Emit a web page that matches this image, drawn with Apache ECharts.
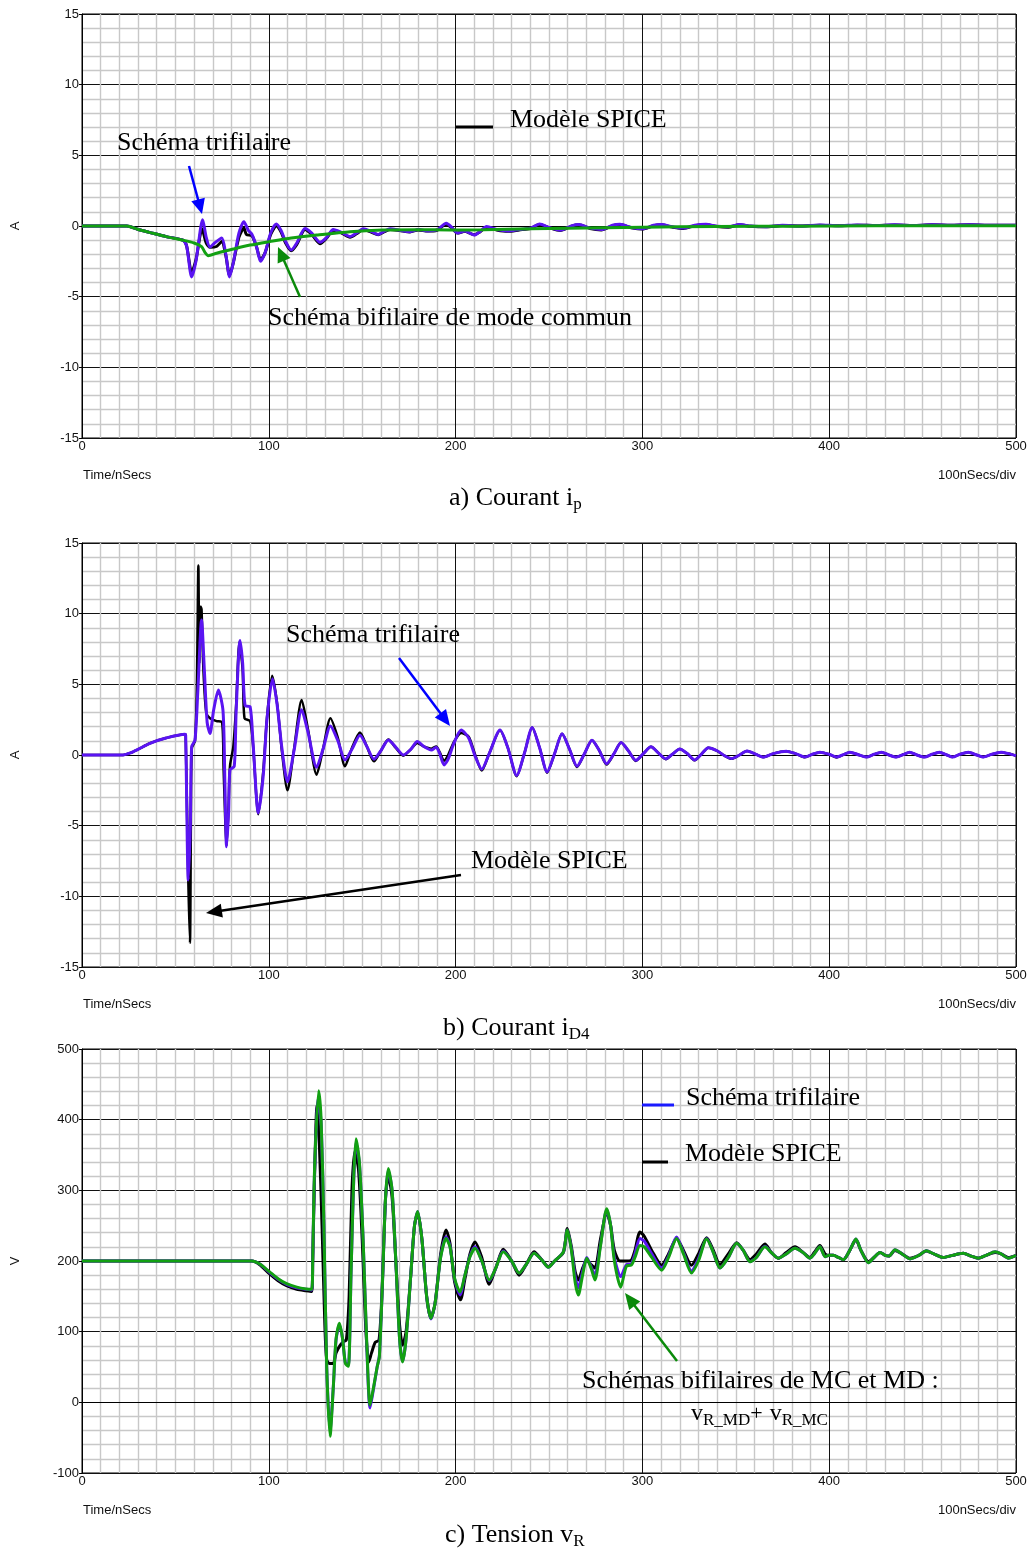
<!DOCTYPE html>
<html><head><meta charset="utf-8">
<script src="https://cdn.jsdelivr.net/npm/echarts@6/dist/echarts.min.js"></script>
<style>html,body{margin:0;padding:0;background:#fff}#c{width:1031px;height:1549px}</style>
</head><body><div id="c"></div><script>
// ---------- data (time in ns) ----------
// Panel a) Courant ip (A)
const aSpice = [[0,0],[22,0],[24,0],[30,-0.25],[36,-0.45],[45,-0.75],[54,-1.0],[56,-1.4],[58.7,-3.3],[61,-2.4],[64.3,-0.2],[66.5,-1.2],[68.5,-1.5],[72,-1.45],[74.8,-1.1],[77,-2.1],[79,-3.5],[81,-2.6],[84,-0.8],[86.7,-0.15],[88,-0.6],[91,-0.7],[93.5,-1.5],[95.6,-2.4],[98,-1.9],[101,-0.6],[104,0.0],[106.5,-0.4],[109,-1.2],[112,-1.75],[115,-1.3],[119.4,-0.25],[123,-0.6],[127.4,-1.25],[131,-0.85],[134.5,-0.3],[139,-0.5],[143.5,-0.8],[147,-0.55],[150.6,-0.25],[155,-0.45],[158.6,-0.62],[162,-0.4],[165,-0.25],[170,-0.32],[175.6,-0.42],[180,-0.28],[185,-0.36],[190,-0.3],[195,0.12],[198,-0.15],[201,-0.5],[205,-0.38],[210,-0.62],[213,-0.42],[216.6,-0.1],[222,-0.28],[228,-0.38],[234,-0.28],[240,-0.18],[245,0.1],[250,-0.12],[256,-0.32],[262,-0.02],[266,0.08],[272,-0.18],[278,-0.28],[284,0.02],[288,0.1],[294,-0.12],[300,-0.22],[306,0.02],[310,0.08],[316,-0.08],[322,-0.18],[328,0.02],[334,0.1],[340,-0.04],[346,-0.08],[352,0.08],[358,-0.02],[366,-0.06],[375,0.04],[385,0.0],[395,0.06],[405,0.02],[415,0.06],[425,0.03],[435,0.07],[445,0.04],[455,0.08],[465,0.05],[475,0.08],[485,0.05],[500,0.06]];
const aTri = [[0,0],[22,0],[24,0],[30,-0.25],[36,-0.45],[45,-0.75],[54,-1.0],[56,-1.4],[58.7,-3.6],[61,-2.5],[64.6,0.45],[66.5,-0.8],[68.5,-1.5],[71,-1.2],[74.8,-0.85],[77,-2.0],[79,-3.6],[81,-2.6],[84,-0.5],[86.7,0.3],[89,-0.3],[91,-0.6],[93.5,-1.5],[95.6,-2.5],[98,-1.9],[101,-0.5],[104,0.14],[106.5,-0.3],[109,-1.1],[112,-1.7],[115,-1.2],[119.4,-0.17],[123,-0.5],[127.4,-1.15],[131,-0.8],[134.5,-0.24],[139,-0.45],[143.5,-0.75],[147,-0.5],[150.6,-0.2],[155,-0.4],[158.6,-0.6],[162,-0.35],[165,-0.2],[170,-0.3],[175.6,-0.4],[180,-0.25],[185,-0.35],[190,-0.28],[195,0.19],[198,-0.1],[201,-0.5],[205,-0.35],[210,-0.64],[213,-0.4],[216.6,-0.04],[222,-0.25],[228,-0.35],[234,-0.25],[240,-0.15],[245,0.15],[250,-0.1],[256,-0.3],[262,0.0],[266,0.1],[272,-0.15],[278,-0.25],[284,0.05],[288,0.12],[294,-0.1],[300,-0.2],[306,0.05],[310,0.1],[316,-0.05],[322,-0.15],[328,0.05],[334,0.12],[340,-0.02],[346,-0.05],[352,0.1],[358,0.0],[366,-0.05],[375,0.05],[385,0.0],[395,0.07],[405,0.02],[415,0.07],[425,0.03],[435,0.08],[445,0.04],[455,0.08],[465,0.05],[475,0.08],[485,0.05],[500,0.06]];
const aBif = [[0,0],[22,0],[24,0],[30,-0.25],[36,-0.45],[45,-0.75],[54,-1.0],[60,-1.2],[64,-1.46],[66,-1.9],[67.6,-2.1],[72,-1.93],[81,-1.63],[90,-1.35],[100.6,-1.1],[112,-0.85],[125.6,-0.64],[143.5,-0.4],[161,-0.28],[179,-0.26],[197,-0.28],[215,-0.27],[240,-0.2],[280,-0.12],[320,-0.06],[360,-0.02],[400,0.0],[450,0.02],[500,0.02]];

// Panel b) Courant iD4 (A)
const bSpice = [[0,0],[22,0],[26,0.15],[30,0.4],[36.4,0.83],[45,1.2],[55.1,1.46],[55.5,1.4],[56.9,-8.9],[57.8,-13.3],[58.3,-5],[58.8,0.5],[60.5,1.0],[61.5,5],[62.3,13.4],[62.8,6.5],[63.5,10.5],[64,10.3],[65,6],[66.5,3],[68.5,2.6],[72,2.4],[75,2.3],[75.8,-1],[77.4,-6.4],[78.5,-3.5],[79.2,-0.8],[81,0.6],[82.5,3.5],[84.3,8.0],[86,6],[87,2.6],[90,2.4],[91.5,0.8],[94.4,-4.2],[97,-1.2],[99,2.6],[101.8,5.6],[104.5,3.6],[107,0.3],[110,-2.5],[113.5,0.4],[117.6,3.9],[121,1.8],[125.6,-1.4],[129,0.4],[133,2.6],[137,1.2],[140.8,-0.8],[144.5,0.5],[148.8,1.6],[152.5,0.6],[156.3,-0.45],[160,0.3],[164,1.1],[168,0.5],[172,-0.05],[176,0.4],[179.5,0.85],[183,0.6],[187,0.45],[189.6,0.6],[191.5,0.2],[193.8,-0.4],[196,0.0],[199,0.9],[203,1.55],[207,1.3],[210.5,0.0],[214,-1.1],[218,0.1],[223.8,1.75],[228,0.5],[232.7,-1.5],[237,0.2],[241,1.95],[245,0.5],[249,-1.25],[253,0.1],[257,1.5],[261,0.4],[265,-0.85],[269,0.1],[273,1.05],[277,0.3],[280.8,-0.68],[284.8,0.1],[288.6,0.88],[292.5,0.3],[296.5,-0.42],[300.5,0.1],[304.6,0.58],[308.5,0.15],[312.5,-0.3],[316,0.05],[320,0.42],[324,0.1],[328,-0.38],[331.5,0.05],[335.3,0.52],[340,0.3],[344,-0.05],[347.8,-0.27],[352,0.0],[356,0.28],[360,0.1],[364.7,-0.16],[370,0.1],[377,0.27],[382,0.1],[387,-0.16],[391,0.05],[395,0.2],[400,0.05],[404,-0.17],[408,0.05],[411,0.2],[416,0.0],[420,-0.15],[424,0.05],[428,0.2],[432,0.0],[436,-0.15],[440,0.05],[443,0.2],[447,0.0],[451,-0.15],[455,0.05],[459,0.2],[463,0.0],[466,-0.15],[470,0.05],[474.5,0.2],[479,0.0],[482.5,-0.15],[487,0.05],[492,0.2],[496,0.1],[500,-0.05]];
const bTri = [[0,0],[22,0],[26,0.15],[30,0.4],[36.4,0.83],[45,1.2],[55.1,1.46],[55.5,1.4],[56.9,-8.85],[58,-5],[58.7,0.59],[60.5,1.06],[62,4.5],[64,9.55],[65.5,6],[67,2.3],[68.5,1.53],[70.5,3.2],[73,4.6],[75.5,3.1],[76.5,-2],[77.4,-6.5],[78.5,-4],[79.2,-1.06],[81.5,-0.8],[82.5,3],[84.6,8.1],[86,6.5],[87.3,3.5],[90,3.4],[91.5,1.0],[94.4,-4.1],[97,-1.5],[99,2.5],[102,5.4],[104.5,3.5],[107,0.5],[110,-1.9],[113.5,0.3],[117.6,3.2],[121,1.6],[125.6,-0.87],[129,0.4],[133,2.05],[137,1.0],[140.8,-0.35],[144.5,0.4],[148.8,1.4],[152.5,0.6],[156.3,-0.3],[160,0.3],[164,1.06],[168,0.55],[172,0.0],[176,0.4],[179.5,0.95],[183,0.6],[187,0.35],[189.6,0.55],[191.5,0.1],[193.8,-0.7],[196,-0.3],[199,0.8],[203,1.77],[207,1.2],[210.5,-0.1],[214,-1.0],[218,0.1],[223.8,1.77],[228,0.5],[232.7,-1.45],[237,0.2],[241,1.95],[245,0.5],[249,-1.2],[253,0.1],[257,1.5],[261,0.4],[265,-0.8],[269,0.1],[273,1.05],[277,0.3],[280.8,-0.62],[284.8,0.1],[288.6,0.88],[292.5,0.3],[296.5,-0.38],[300.5,0.1],[304.6,0.58],[308.5,0.15],[312.5,-0.27],[316,0.05],[320,0.42],[324,0.1],[328,-0.35],[331.5,0.05],[335.3,0.52],[340,0.3],[344,-0.05],[347.8,-0.25],[352,0.0],[356,0.28],[360,0.1],[364.7,-0.14],[370,0.1],[377,0.27],[382,0.1],[387,-0.14],[391,0.05],[395,0.2],[400,0.05],[404,-0.15],[408,0.05],[411,0.2],[416,0.0],[420,-0.15],[424,0.05],[428,0.2],[432,0.0],[436,-0.15],[440,0.05],[443,0.2],[447,0.0],[451,-0.15],[455,0.05],[459,0.2],[463,0.0],[466,-0.15],[470,0.05],[474.5,0.2],[479,0.0],[482.5,-0.15],[487,0.05],[492,0.2],[496,0.1],[500,-0.05]];

// Panel c) Tension vR (V)
const cSpice = [[0,200],[90,200],[91,200],[95,195],[100.3,182],[105,172],[109.5,165],[115,160],[120,158],[123,157],[123.5,200],[124.5,320],[125.8,420],[127,370],[128.5,250],[130,110],[131,60],[132.5,55],[134.5,55],[136,70],[138,80],[140,86],[141.5,88],[143,150],[144.5,300],[146,355],[148,330],[150,230],[152,100],[153.5,57],[155,70],[157,85],[159,88],[160.5,150],[162.5,290],[164,320],[166,290],[168,200],[170,110],[171.6,81],[173.5,100],[176,180],[178,250],[179.7,268],[182,230],[184.5,150],[186.8,119],[189,140],[192,210],[194.9,244],[197,225],[199.5,170],[202.6,145],[205,175],[207.7,210],[210.4,227],[214,205],[218,167],[221.5,190],[225.5,216.5],[230,200],[234,180],[238,196],[242,213],[246,202],[249.6,192],[253,200],[257.7,212],[259.8,246],[262,220],[264,185],[265.7,173],[268,190],[270.2,201],[272.5,195],[274.6,190],[277.5,230],[280.9,268],[283,250],[285,215],[288,200],[291.5,200],[294,201],[296,215],[298.7,241],[301,235],[305,215],[310.3,194],[314,210],[318.3,232],[322,215],[326.3,194],[330,210],[334.4,233],[338,215],[341.5,195],[346,210],[350.5,226],[354,215],[357.6,202],[361,210],[365.6,224],[369,212],[372.8,204],[377,212],[381.7,220],[386,212],[389.7,205],[392,212],[395,222],[397.8,210],[400,208],[402.2,208],[405,205],[407.6,202],[411,215],[414.3,230],[417,215],[421,199],[424,205],[427.2,212],[430,208],[432,207],[435.2,215],[439,210],[443.3,204],[448,208],[452,214],[456,210],[461,205],[466,208],[471.8,211],[476,207],[479.8,204],[484,208],[488.8,212],[492,210],[495.9,205],[500,208]];
const cTri = [[0,200],[90,200],[91,200],[95,196],[100.3,184],[105,174],[109.5,167],[115,162],[120,160],[123,159],[123.5,200],[124.5,325],[126.5,430],[128,395],[129.5,250],[131,50],[132.8,-40],[134.5,20],[136,88],[137.8,110],[139.5,90],[141,56],[142.6,53],[144,180],[145.5,318],[146.7,368],[148.5,338],[150.5,230],[152.5,75],[154.2,-8],[156,18],[158,50],[159.2,66],[161,180],[162.5,288],[164,328],[166,300],[168,200],[170,90],[171.6,58],[173.5,90],[176,180],[178,250],[179.7,270],[182,230],[184.5,150],[186.8,118],[189,140],[192,206],[194.9,234],[197,221],[199.5,174],[202.4,152],[205,180],[207.7,207],[210.4,220],[214,200],[218,172],[221.5,190],[225.5,214],[230,200],[234,183],[238,196],[242,211],[246,202],[249.6,191],[253,200],[257.7,213],[259.8,244],[262,217],[264,178],[265.7,162],[268,185],[270.2,205],[272.5,192],[274.6,180],[277.5,222],[280.9,272],[283,250],[285,205],[288.4,178],[291.5,195],[294,196],[296,210],[298.7,232],[301,228],[305,210],[310.3,190],[314,207],[318.3,234],[322,212],[326.3,186],[330,203],[334.4,232],[338,212],[341.5,190],[346,205],[350.5,225],[354,215],[357.6,199],[361,205],[365.6,221],[369,212],[372.8,204],[377,210],[381.7,218],[386,212],[389.7,204],[392,210],[395,220],[397.8,206],[400,208],[402.2,208],[405,205],[407.6,202],[411,215],[414.3,231],[417,215],[421,197.5],[424,205],[427.2,212],[430,208],[432,207],[435.2,216],[439,210],[443.3,203],[448,208],[452,214.6],[456,210],[461,205],[466,208],[471.8,211],[476,207],[479.8,204],[484,208],[488.8,213],[492,210],[495.9,204],[500,208]];
const cBif = [[0,200],[90,200],[91,200],[95,196],[100.3,185],[105,175],[109.5,168],[115,163],[120,160.5],[123,160],[123.5,200],[124.5,330],[126.7,441],[128,400],[129.5,250],[131,50],[132.8,-48],[134.5,20],[136,90],[137.8,112],[139.5,90],[141,55],[142.6,51],[144,180],[145.5,320],[146.7,373],[148.5,340],[150.5,230],[152.5,80],[154.2,-4],[156,20],[158,50],[159.2,65],[161,180],[162.5,290],[164,331],[166,300],[168,200],[170,90],[171.6,57],[173.5,90],[176,180],[178,250],[179.7,270],[182,230],[184.5,150],[186.8,119],[189,140],[192,205],[194.9,232],[197,220],[199.5,175],[202.4,156],[205,180],[207.7,206],[210.4,218],[214,200],[218,173],[221.5,190],[225.5,213],[230,200],[234,183],[238,196],[242,211],[246,202],[249.6,191],[253,200],[257.7,213],[259.8,244],[262,215],[264,170],[265.7,152],[268,180],[270.2,204],[272.5,190],[274.6,173],[277.5,220],[280.9,274],[283,250],[285,200],[288.4,163],[291.5,193],[294,194],[296,205],[298.7,222],[301,220],[305,205],[310.3,187],[314,205],[318.3,232],[322,210],[326.3,183],[330,200],[334.4,231],[338,212],[341.5,190],[346,205],[350.5,225],[354,215],[357.6,199],[361,205],[365.6,220],[369,212],[372.8,204],[377,210],[381.7,218],[386,212],[389.7,204],[392,210],[395,220],[397.8,206],[400,208],[402.2,208],[405,205],[407.6,202],[411,215],[414.3,231],[417,215],[421,197.5],[424,205],[427.2,212],[430,208],[432,207],[435.2,216],[439,210],[443.3,203],[448,208],[452,214.6],[456,210],[461,205],[466,208],[471.8,211],[476,207],[479.8,204],[484,208],[488.8,213],[492,210],[495.9,204],[500,208]];

const xTicks = {min: 0, max: 500, interval: 100};
const yRanges = [{min: -15, max: 15, interval: 5}, {min: -15, max: 15, interval: 5}, {min: -100, max: 500, interval: 100}];
const yNames = ['A', 'A', 'V'];

// ---------- styling ----------
const COL_BLACK = '#000000', COL_BLUE = '#5a14f2', COL_GREEN = '#12a012';
const SERIF = '"Liberation Serif","Times New Roman",serif';
const SANS = '"Liberation Sans",Arial,sans-serif';
const tops = [14, 543, 1049];
const GL = 82, GW = 934, GH = 424;

const grids = [], xAxes = [], yAxes = [];
tops.forEach((t, i) => {
  grids.push({left: GL, top: t, width: GW, height: GH, show: true, borderColor: '#000', borderWidth: 1, backgroundColor: '#fff'});
  xAxes.push({gridIndex: i, type: 'value', min: xTicks.min, max: xTicks.max, interval: xTicks.interval,
    axisLine: {show: true, lineStyle: {color: '#000', width: 1}}, axisTick: {show: false},
    axisLabel: {fontSize: 13, color: '#111', margin: 2, fontFamily: SANS, showMinLabel: true, showMaxLabel: true},
    splitLine: {show: true, lineStyle: {color: '#111', width: 1}},
    minorTick: {show: false, splitNumber: 10},
    minorSplitLine: {show: true, lineStyle: {color: '#c8c8c8', width: 1.4}}});
  const r = yRanges[i];
  yAxes.push({gridIndex: i, type: 'value', min: r.min, max: r.max, interval: r.interval,
    axisLine: {show: true, onZero: false, lineStyle: {color: '#000', width: 1}},
    axisTick: {show: true, length: 3, lineStyle: {color: '#000'}},
    axisLabel: {fontSize: 13, color: '#111', margin: 3, fontFamily: SANS, showMinLabel: true, showMaxLabel: true},
    splitLine: {show: true, lineStyle: {color: '#111', width: 1}},
    minorTick: {show: false, splitNumber: 5},
    minorSplitLine: {show: true, lineStyle: {color: '#c8c8c8', width: 1.4}}});
});

function ser(data, idx, color, w) {
  return {type: 'line', data: data, xAxisIndex: idx, yAxisIndex: idx, showSymbol: false, symbol: 'none',
    smooth: 0.25, lineStyle: {color: color, width: w}, animation: false, silent: true};
}
const series = [
  ser(aSpice, 0, COL_BLACK, 3), ser(aTri, 0, COL_BLUE, 3), ser(aBif, 0, COL_GREEN, 3),
  ser(bSpice, 1, COL_BLACK, 2.5), ser(bTri, 1, COL_BLUE, 3),
  ser(cSpice, 2, COL_BLACK, 3), ser(cTri, 2, COL_BLUE, 3), ser(cBif, 2, COL_GREEN, 3)
];

// ---------- annotations ----------
const mctx = document.createElement('canvas').getContext('2d');
function tw(s, size, font) { mctx.font = size + 'px ' + font; return mctx.measureText(s).width; }
const g = [];
function txt(x, y, s, size, font, align, color, rot) {
  g.push({type: 'text', x: x, y: y, rotation: rot || 0, z: 100,
    style: {text: s, fontSize: size, fontFamily: font, fill: color || '#000', textAlign: align || 'left', textVerticalAlign: 'middle'}});
}
// main text followed by subscript; returns x after subscript
function withSub(x, y, main, sub, size, subSize) {
  txt(x, y, main, size, SERIF);
  const x2 = x + tw(main, size, SERIF);
  txt(x2, y + 7, sub, subSize, SERIF);
  return x2 + tw(sub, subSize, SERIF);
}
function arrow(x1, y1, x2, y2, color, w, hl, hw) {
  const dx = x2 - x1, dy = y2 - y1, L = Math.sqrt(dx * dx + dy * dy);
  const ux = dx / L, uy = dy / L;
  const bx = x2 - ux * hl, by = y2 - uy * hl;
  g.push({type: 'line', z: 100, shape: {x1: x1, y1: y1, x2: bx + ux * 1, y2: by + uy * 1}, style: {stroke: color, lineWidth: w}});
  g.push({type: 'polygon', z: 100, shape: {points: [[x2, y2], [bx - uy * hw, by + ux * hw], [bx + uy * hw, by - ux * hw]]}, style: {fill: color}});
}
function hline(x1, x2, y, color) {
  g.push({type: 'line', z: 100, shape: {x1: x1, y1: y, x2: x2, y2: y}, style: {stroke: color, lineWidth: 3}});
}
tops.forEach((t, i) => {
  txt(15, t + 212, yNames[i], 13, SANS, 'center', '#111', Math.PI / 2);
  txt(83, t + 461, 'Time/nSecs', 13, SANS, 'left', '#111');
  txt(1016, t + 461, '100nSecs/div', 13, SANS, 'right', '#111');
});
// Panel a
txt(117, 143, 'Schéma trifilaire', 26, SERIF);
arrow(189, 166, 202, 214, '#0000ff', 2.5, 15, 7);
hline(456, 493, 127, '#000');
txt(510, 120, 'Modèle SPICE', 26, SERIF);
txt(268, 318, 'Schéma bifilaire de mode commun', 26, SERIF);
arrow(300, 297, 278, 247, '#0a8a0a', 2.5, 15, 7);
withSub(449, 498, 'a) Courant i', 'p', 26, 17);
// Panel b
txt(286, 635, 'Schéma trifilaire', 26, SERIF);
arrow(399, 658, 450, 726, '#0000ff', 2.5, 16, 7);
txt(471, 861, 'Modèle SPICE', 26, SERIF);
arrow(461, 875, 206, 913, '#000', 2.5, 16, 7);
withSub(443, 1028, 'b) Courant i', 'D4', 26, 17);
// Panel c
hline(642, 674, 1105, '#1a1aff');
txt(686, 1098, 'Schéma trifilaire', 26, SERIF);
hline(642, 668, 1162, '#000');
txt(685, 1154, 'Modèle SPICE', 26, SERIF);
txt(582, 1381, 'Schémas bifilaires de MC et MD :', 26, SERIF);
arrow(677, 1361, 625, 1293, '#0a8a0a', 2.5, 16, 7);
let vx = withSub(691, 1414, 'v', 'R_MD', 24, 17);
txt(vx, 1414, '+', 22, SERIF);
vx += tw('+', 22, SERIF) + 7;
withSub(vx, 1414, 'v', 'R_MC', 24, 17);
withSub(445, 1535, 'c) Tension v', 'R', 26, 17);

const chart = echarts.init(document.getElementById('c'), null, {renderer: 'canvas', width: 1031, height: 1549});
chart.setOption({
  animation: false, backgroundColor: '#fff',
  grid: grids, xAxis: xAxes, yAxis: yAxes, series: series, graphic: g
});
</script></body></html>
